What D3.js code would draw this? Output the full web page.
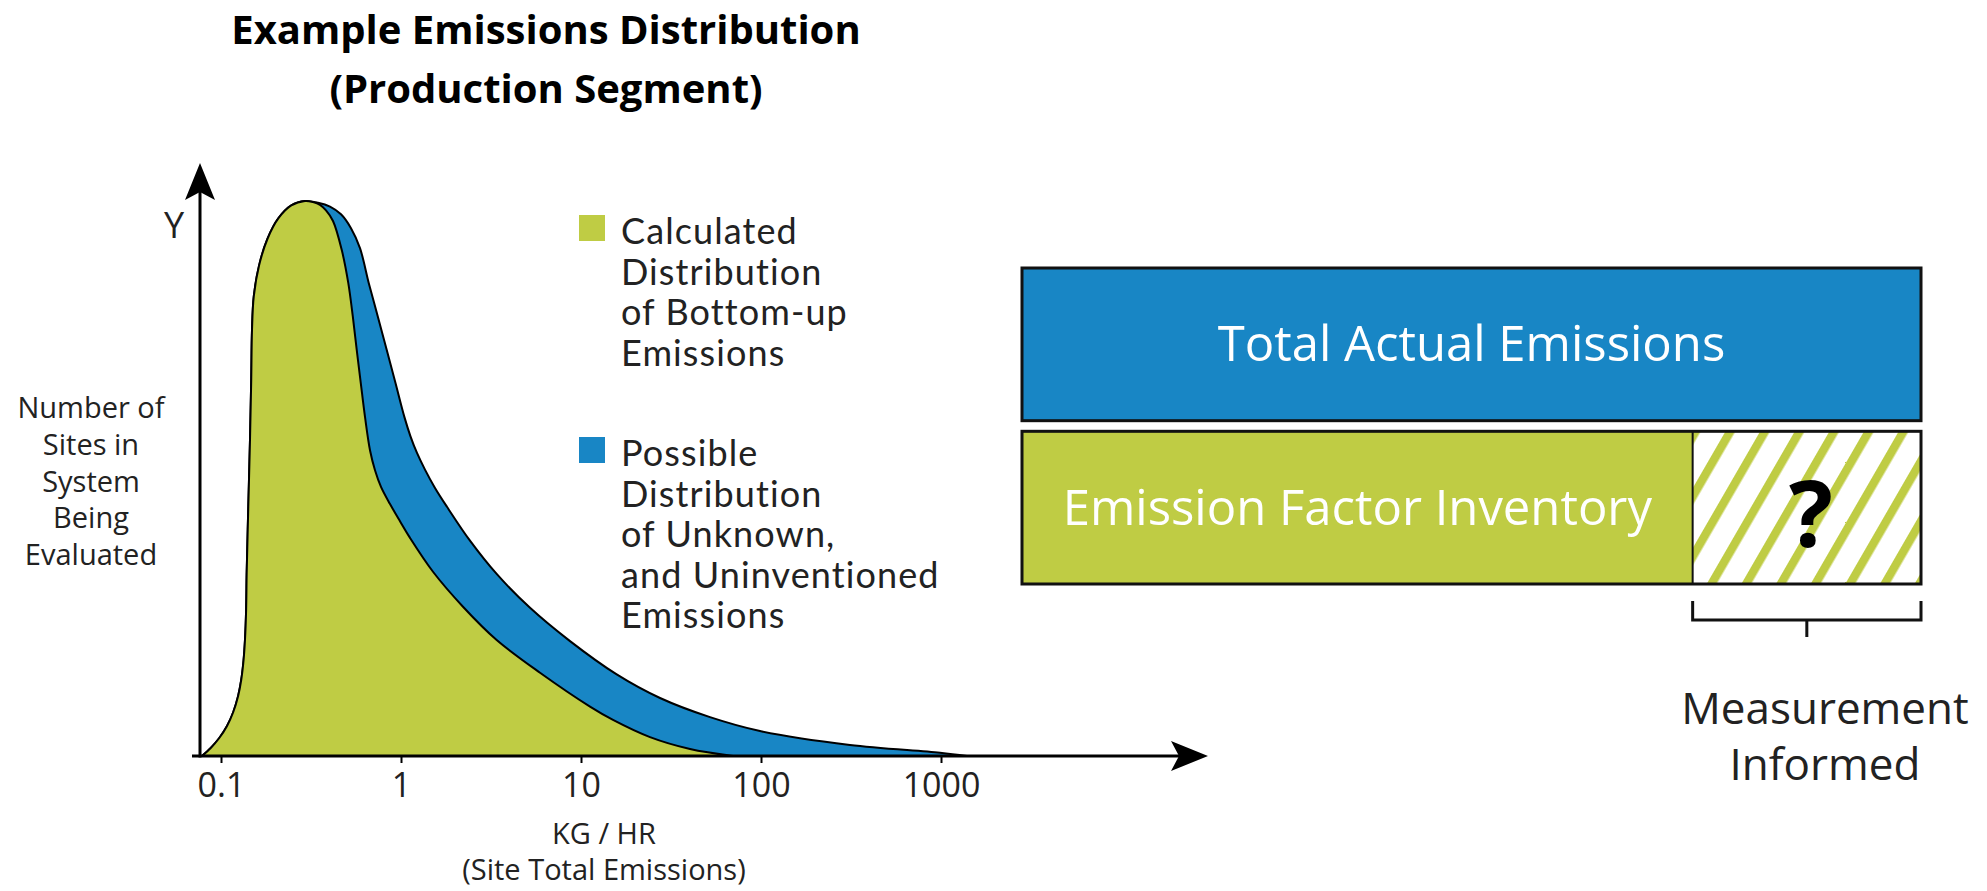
<!DOCTYPE html>
<html>
<head>
<meta charset="utf-8">
<script src="https://cdn.jsdelivr.net/npm/d3@7"></script>
<style>
  html, body { margin: 0; padding: 0; background: #fff; }
  svg { display: block; }
  text { font-family: "Open Sans", "DejaVu Sans", sans-serif; fill: #111; }
</style>
</head>
<body>
<svg id="chart" width="1987" height="891"></svg>
<script>
// ---------------- DATA ----------------
const titleLines = ["Example Emissions Distribution", "(Production Segment)"];
const xTickValues = [0.1, 1, 10, 100, 1000];
const xTickLabels = ["0.1", "1", "10", "100", "1000"];
const xTitleLines = ["KG / HR", "(Site Total Emissions)"];
const yTitleLines = ["Number of", "Sites in", "System", "Being", "Evaluated"];
const yLetter = "Y";

// Calculated distribution (bottom-up): emission rate (kg/hr) and relative number of sites
const greenRate = [0.0784, 0.0877, 0.0978, 0.1080, 0.1170, 0.1245, 0.1295, 0.1335, 0.1359, 0.1379, 0.1389, 0.1418, 0.1449, 0.1472, 0.1487, 0.1521, 0.1628, 0.1813, 0.2086, 0.2458, 0.2929,
  0.3245, 0.3548, 0.3831, 0.419, 0.4684, 0.5096, 0.5398, 0.5674, 0.5978, 0.631, 0.6726, 0.7171, 0.7743, 0.8689, 0.9873, 1.122, 1.506, 2.21, 3.40, 5.92, 11.22, 15.06, 24.17, 40.33, 69.9];
const greenSites = [0, 1.44, 3.24, 5.41, 7.93, 10.81, 13.69, 17.3, 20.9, 26.3, 33.0, 44.9, 56.9, 67.7, 76.8, 82.8, 88.4, 93.2, 96.9, 99.2, 100,
  99.8, 99.3, 98.3, 96.4, 91.2, 85.2, 79.2, 73.2, 67.2, 61.1, 55.1, 51.5, 48.5, 45.4, 42.3, 39.3, 33.2, 26.9, 20.9, 15.0, 8.9, 6.5, 3.4, 1.26, 0];

// Possible distribution incl. unknown / uninventoried emissions
const blueRate = [0.0784, 0.0877, 0.0978, 0.1080, 0.1170, 0.1245, 0.1295, 0.1335, 0.1359, 0.1379, 0.1389, 0.1418, 0.1449, 0.1472, 0.1487, 0.1521, 0.1628, 0.1813, 0.2086, 0.2458, 0.2929,
  0.3458, 0.4033, 0.4642, 0.5275, 0.5918, 0.6623, 0.7431, 0.8327, 0.932, 1.044, 1.129, 1.227, 1.359, 1.545, 1.801, 2.417, 3.40, 5.21, 8.69, 15.79, 27.48, 52.08, 98.73, 312, 987, 1393];
const blueSites = [0, 1.44, 3.24, 5.41, 7.93, 10.81, 13.69, 17.3, 20.9, 26.3, 33.0, 44.9, 56.9, 67.7, 76.8, 82.8, 88.4, 93.2, 96.9, 99.2, 100,
  99.7, 99.0, 97.6, 95.1, 91.5, 85.2, 79.2, 73.2, 67.2, 61.1, 57.6, 54.6, 51.6, 48.3, 44.9, 38.8, 32.8, 26.7, 20.7, 14.7, 10.45, 7.0, 4.5, 2.0, 0.6, 0];

const legendLabels = [
  ["Calculated", "Distribution", "of Bottom-up", "Emissions"],
  ["Possible", "Distribution", "of Unknown,", "and Uninventioned", "Emissions"]
];
const seriesColors = ["#BFCC44", "#1886C5"];

// Right-hand comparison bars (share of total actual emissions, %)
const barLabels = ["Total Actual Emissions", "Emission Factor Inventory"];
const totalActual = 100;
const inventoryShare = 74.6;
const measurementLabel = ["Measurement", "Informed"];
const unknownMark = "?";

// ---------------- DRAW ----------------
const svg = d3.select("#chart");
const GREEN = seriesColors[0], BLUE = seriesColors[1];

function multiline(sel, lines, x, y, lh) {
  const t = sel.append("text").attr("x", x).attr("y", y);
  t.selectAll("tspan").data(lines).join("tspan")
    .attr("x", x).attr("dy", (d, i) => i === 0 ? 0 : lh)
    .text(d => d);
  return t;
}

// title
svg.selectAll("text.title").data(titleLines).join("text")
  .attr("class", "title")
  .attr("x", 546).attr("y", (d, i) => 44 + i * 59)
  .attr("text-anchor", "middle")
  .style("font-weight", 700).style("font-size", "40px")
  .style("fill", "#000")
  .text(d => d);

const x = d3.scaleLog().domain([0.1, 1000]).range([221, 941]);
const y = d3.scaleLinear().domain([0, 100]).range([756, 201]);

const greenData = greenRate.map((v, i) => ({ v, c: greenSites[i] }));
const blueData = blueRate.map((v, i) => ({ v, c: blueSites[i] }));

const area = d3.area()
  .x(d => x(d.v)).y0(y(0)).y1(d => y(d.c))
  .curve(d3.curveCatmullRom.alpha(0.5));

svg.append("path").datum(blueData)
  .attr("d", area).attr("fill", BLUE)
  .attr("stroke", "#000").attr("stroke-width", 2).attr("stroke-linejoin", "round");
svg.append("path").datum(greenData)
  .attr("d", area).attr("fill", GREEN)
  .attr("stroke", "#000").attr("stroke-width", 2).attr("stroke-linejoin", "round");

// axes lines with arrows
const axisY0 = y(0);
const yAxisX = 200;
const xAxisStart = 192, xAxisTip = 1208;
const yAxisTip = 163;
svg.append("line").attr("x1", xAxisStart).attr("x2", xAxisTip - 20)
  .attr("y1", axisY0).attr("y2", axisY0)
  .attr("stroke", "#000").attr("stroke-width", 3);
svg.append("path")
  .attr("d", `M${xAxisTip},${axisY0} L${xAxisTip - 37},${axisY0 - 15} L${xAxisTip - 29},${axisY0} L${xAxisTip - 37},${axisY0 + 15} Z`)
  .attr("fill", "#000");
svg.append("line").attr("x1", yAxisX).attr("x2", yAxisX)
  .attr("y1", axisY0 + 1.5).attr("y2", yAxisTip + 20)
  .attr("stroke", "#000").attr("stroke-width", 3);
svg.append("path")
  .attr("d", `M${yAxisX},${yAxisTip} L${yAxisX - 15},${yAxisTip + 37} L${yAxisX},${yAxisTip + 29} L${yAxisX + 15},${yAxisTip + 37} Z`)
  .attr("fill", "#000");

// x axis ticks
const xAxis = d3.axisBottom(x).tickValues(xTickValues)
  .tickFormat((d, i) => xTickLabels[i]).tickSize(7).tickPadding(8);
const gx = svg.append("g").attr("transform", `translate(0,${axisY0})`).call(xAxis);
gx.select(".domain").remove();
gx.selectAll(".tick line").attr("stroke", "#000").attr("stroke-width", 2);
gx.selectAll(".tick text")
  .style("font-family", "'Open Sans', sans-serif")
  .style("font-size", "34px").style("fill", "#222")
  .attr("dy", null).attr("y", 41);

// x title
multiline(svg, xTitleLines, 604, 844, 36)
  .attr("text-anchor", "middle")
  .style("font-size", "29px").style("fill", "#222");

// y title
multiline(svg, yTitleLines, 91, 418, 36.8)
  .attr("text-anchor", "middle")
  .style("font-size", "29px").style("fill", "#222");
svg.append("text").attr("x", 174).attr("y", 238)
  .attr("text-anchor", "middle")
  .style("font-size", "36px").style("fill", "#222")
  .text(yLetter);

// legend
const legendTops = [215, 437];
legendLabels.forEach((lines, k) => {
  svg.append("rect").attr("x", 579).attr("y", legendTops[k])
    .attr("width", 26).attr("height", 26).attr("fill", seriesColors[k]);
  multiline(svg, lines, 621, legendTops[k] + 29, 40.5)
    .style("font-family", "Lato, 'Open Sans', sans-serif")
    .style("font-size", "36px").style("letter-spacing", "1.1px").style("fill", "#222");
});

// right-hand bars
const bx = d3.scaleLinear().domain([0, totalActual]).range([1022, 1921]);
const by = d3.scaleBand().domain(barLabels).range([268, 584]).paddingInner(0.065);

const defs = svg.append("defs");
const pat = defs.append("pattern").attr("id", "hatch")
  .attr("patternUnits", "userSpaceOnUse")
  .attr("width", 30).attr("height", 30)
  .attr("patternTransform", "rotate(30)");
pat.append("rect").attr("width", 30).attr("height", 30).attr("fill", "#fff");
pat.append("rect").attr("x", 0).attr("width", 8.5).attr("height", 30).attr("fill", GREEN);

// top bar: total actual
svg.append("rect")
  .attr("x", bx(0)).attr("y", by(barLabels[0]))
  .attr("width", bx(totalActual) - bx(0)).attr("height", by.bandwidth())
  .attr("fill", BLUE).attr("stroke", "#111").attr("stroke-width", 3);
svg.append("text")
  .attr("x", (bx(0) + bx(totalActual)) / 2).attr("y", by(barLabels[0]) + by.bandwidth() / 2 + 17)
  .attr("text-anchor", "middle")
  .style("font-size", "49px").style("fill", "#fff")
  .text(barLabels[0]);

// bottom bar: inventory + hatched unknown
const b2y = by(barLabels[1]);
svg.append("rect")
  .attr("x", bx(0)).attr("y", b2y)
  .attr("width", bx(inventoryShare) - bx(0)).attr("height", by.bandwidth())
  .attr("fill", GREEN);
svg.append("rect")
  .attr("x", bx(inventoryShare)).attr("y", b2y)
  .attr("width", bx(totalActual) - bx(inventoryShare)).attr("height", by.bandwidth())
  .attr("fill", "url(#hatch)");
svg.append("rect")
  .attr("x", bx(0)).attr("y", b2y)
  .attr("width", bx(totalActual) - bx(0)).attr("height", by.bandwidth())
  .attr("fill", "none").attr("stroke", "#111").attr("stroke-width", 3);
svg.append("line")
  .attr("x1", bx(inventoryShare)).attr("x2", bx(inventoryShare))
  .attr("y1", b2y).attr("y2", b2y + by.bandwidth())
  .attr("stroke", "#111").attr("stroke-width", 2);
svg.append("text")
  .attr("x", (bx(0) + bx(inventoryShare)) / 2).attr("y", b2y + by.bandwidth() / 2 + 17)
  .attr("text-anchor", "middle")
  .style("font-size", "49px").style("fill", "#fff")
  .text(barLabels[1]);
svg.append("text")
  .attr("x", (bx(inventoryShare) + bx(totalActual)) / 2 + 4).attr("y", b2y + by.bandwidth() / 2 + 39)
  .attr("text-anchor", "middle")
  .style("font-size", "92px").style("font-weight", 700).style("fill", "#000")
  .text(unknownMark);

// bracket
const brTop = b2y + by.bandwidth() + 17, brY = brTop + 19;
const bxL = bx(inventoryShare), bxR = bx(totalActual), bxM = (bxL + bxR) / 2;
svg.append("path")
  .attr("d", `M${bxL},${brTop} V${brY} H${bxR} V${brTop} M${bxM},${brY} V${brY + 17}`)
  .attr("fill", "none").attr("stroke", "#111").attr("stroke-width", 3);
multiline(svg, measurementLabel, 1825, 724, 56)
  .attr("text-anchor", "middle")
  .style("font-size", "44px").style("fill", "#222");
</script>
</body>
</html>
